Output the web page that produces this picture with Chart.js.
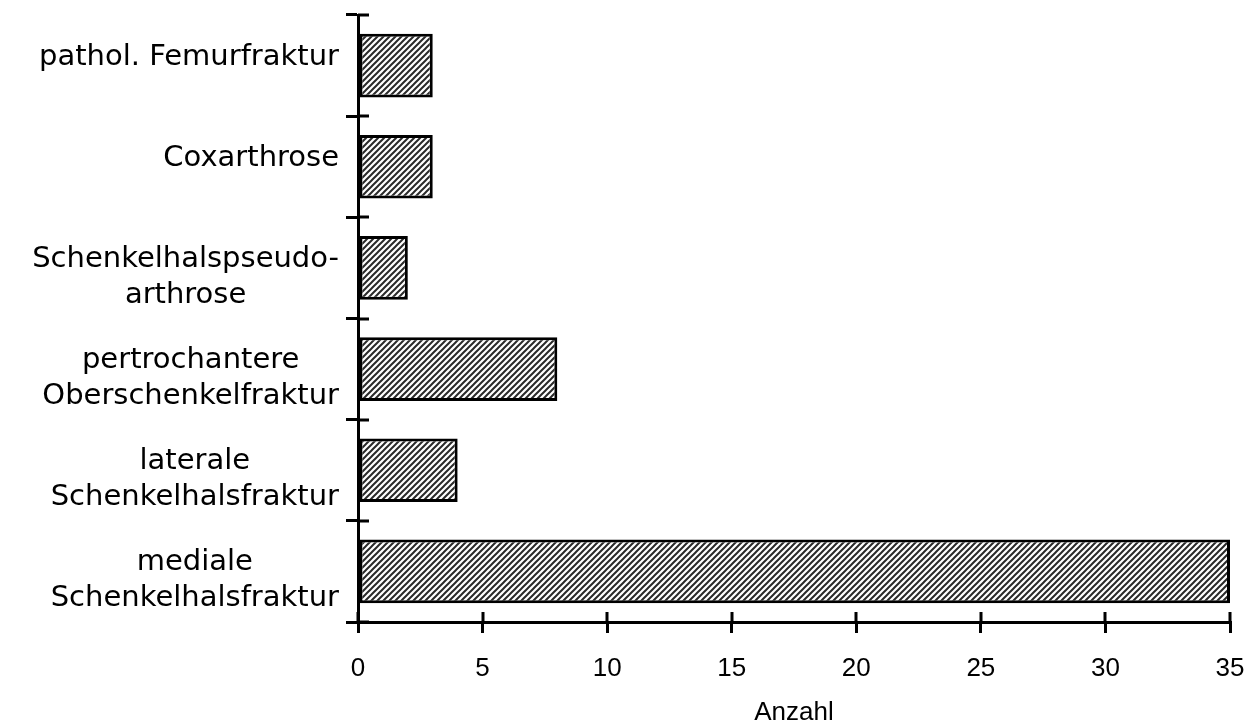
<!DOCTYPE html>
<html>
<head>
<meta charset="utf-8">
<script src="https://cdn.jsdelivr.net/npm/chart.js@4"></script>
<style>
    html, body { margin: 0; padding: 0; background: #fff; }
    canvas { display: block; }
</style>
</head>
<body>
<canvas id="chart" width="1250" height="726"></canvas>
<script>
const categories = [
    ['pathol. Femurfraktur'],
    ['Coxarthrose'],
    ['Schenkelhalspseudo-', 'arthrose'],
    ['pertrochantere', 'Oberschenkelfraktur'],
    ['laterale', 'Schenkelhalsfraktur'],
    ['mediale', 'Schenkelhalsfraktur']
];
const counts = [3, 3, 2, 8, 4, 35];
const xMin = 0;
const xMax = 35;
const xStep = 5;
const xTitle = 'Anzahl';

// diagonal hatch fill like the old print charts
function makeHatch() {
    const c = document.createElement('canvas');
    c.width = 6;
    c.height = 6;
    const g = c.getContext('2d');
    g.fillStyle = '#fff';
    g.fillRect(0, 0, 6, 6);
    g.strokeStyle = '#2a2a2a';
    g.lineWidth = 2;
    g.beginPath();
    g.moveTo(-1, 7); g.lineTo(7, -1);
    g.moveTo(-1, 1); g.lineTo(1, -1);
    g.moveTo(5, 7); g.lineTo(7, 5);
    g.stroke();
    return g.createPattern(c, 'repeat');
}

// ticks cross the axis lines, and the category labels are centred blocks
const axisExtras = {
    id: 'axisExtras',
    afterDraw(chart) {
        const { ctx, scales: { x, y } } = chart;
        ctx.save();
        ctx.strokeStyle = '#000';
        ctx.lineWidth = 3;
        ctx.beginPath();
        x.ticks.forEach(t => {
            const px = Math.round(x.getPixelForValue(t.value));
            ctx.moveTo(px, x.top);
            ctx.lineTo(px, x.top - 10);
        });
        const step = (y.bottom - y.top) / categories.length;
        for (let i = 0; i <= categories.length; i++) {
            const py = Math.round(y.top + i * step);
            ctx.moveTo(y.right, py);
            ctx.lineTo(y.right + 11, py);
        }
        ctx.stroke();

        ctx.font = '29px "DejaVu Sans"';
        ctx.fillStyle = '#000';
        ctx.textAlign = 'center';
        ctx.textBaseline = 'alphabetic';
        const right = y.right - 19;
        categories.forEach((lines, i) => {
            const c = y.getPixelForValue(i);
            const w = Math.max(...lines.map(l => ctx.measureText(l).width));
            lines.forEach((l, k) => ctx.fillText(l, right - w / 2, c - 1 + k * 36));
        });
        ctx.restore();
    }
};

new Chart(document.getElementById('chart'), {
    type: 'bar',
    data: {
        labels: categories,
        datasets: [{
            data: counts,
            backgroundColor: makeHatch(),
            borderColor: '#000',
            borderWidth: 3,
            borderSkipped: false,
            barPercentage: 0.63,
            categoryPercentage: 1
        }]
    },
    options: {
        indexAxis: 'y',
        responsive: false,
        animation: false,
        layout: { padding: { top: 15, right: 20, left: 0, bottom: 0 } },
        plugins: {
            legend: { display: false },
            tooltip: { enabled: false }
        },
        scales: {
            x: {
                min: xMin,
                max: xMax,
                ticks: {
                    stepSize: xStep,
                    color: '#000',
                    padding: 20,
                    font: { family: '"Liberation Sans", Arial', size: 26 }
                },
                grid: { drawOnChartArea: false, color: '#000', lineWidth: 3, tickLength: 11 },
                border: { color: '#000', width: 3 },
                title: {
                    display: true,
                    text: xTitle,
                    color: '#000',
                    padding: 0,
                    font: { family: '"Liberation Sans", Arial', size: 26, lineHeight: 1 }
                },
                afterFit(scale) {
                    scale.height = 104;
                    scale.paddingLeft = 0;
                    scale.paddingRight = 0;
                }
            },
            y: {
                ticks: { display: false },
                grid: { drawOnChartArea: false, color: '#000', lineWidth: 3, tickLength: 12, offset: true },
                border: { color: '#000', width: 3 },
                afterFit(scale) { scale.width = 358; }
            }
        }
    },
    plugins: [axisExtras]
});
</script>
</body>
</html>
